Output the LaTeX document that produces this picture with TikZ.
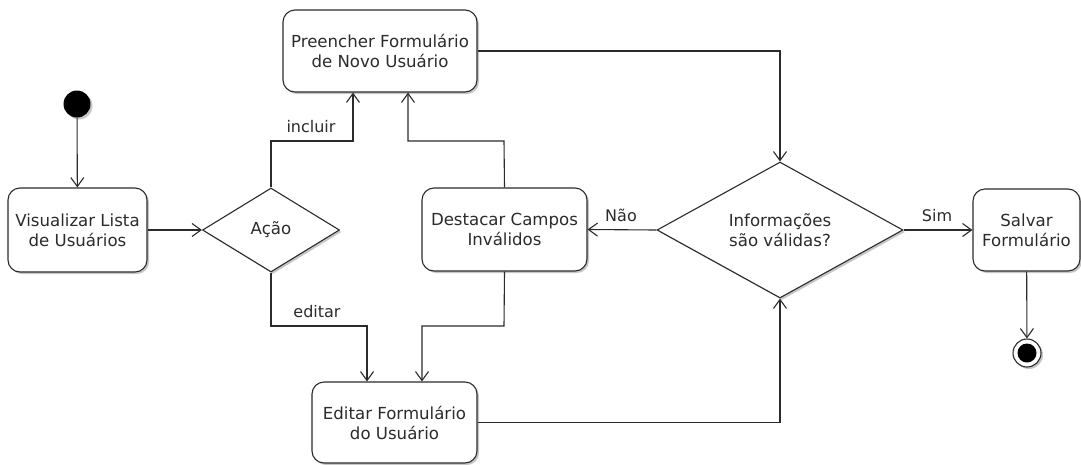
\documentclass[tikz,border=0pt]{standalone}
\usepackage{fontspec}
\setmainfont{DejaVu Sans}
\usetikzlibrary{shapes.geometric,arrows.meta,shadows}
\definecolor{ink}{HTML}{2B2B2B}
\tikzset{
  shade/.style={drop shadow={shadow xshift=2pt,shadow yshift=-2pt,opacity=0.22,fill=black}},
  activity/.style={draw=ink,line width=1.1pt,rounded corners=12pt,fill=white,shade,
    inner sep=0pt,align=center,text=ink,font=\fontsize{16.6}{20}\selectfont},
  choice/.style={diamond,draw=ink,line width=1.1pt,fill=white,shade,inner sep=0pt,
    aspect=1.8,align=center,text=ink,font=\fontsize{16.6}{20}\selectfont},
  flow/.style={draw=ink,line width=1.1pt,-{Straight Barb[length=9pt,width=13pt,line width=1.1pt]}},
  guard/.style={text=ink,inner sep=0pt},
}
\begin{document}
\begin{tikzpicture}[x=1pt,y=-1pt,font=\fontsize{16}{20}\selectfont]
\useasboundingbox (0,0) rectangle (1081,464);

% initial and final states
\node[circle,fill=black,minimum size=27pt,inner sep=0pt,shade] (start) at (77,104) {};
\node[circle,draw=ink,line width=1.1pt,fill=white,minimum size=28pt,inner sep=0pt,shade] (stop) at (1027,353) {};
\node[circle,fill=black,minimum size=19pt,inner sep=0pt] (stopdot) at (stop.center) {};

% activities
\node[activity,minimum width=139pt,minimum height=84pt] (lista) at (77.5,230) {Visualizar Lista\\de Usuários};
\node[activity,minimum width=194pt,minimum height=82pt] (novo) at (380,51) {Preencher Formulário\\de Novo Usuário};
\node[activity,minimum width=165pt,minimum height=83pt] (destacar) at (504.5,229.5) {Destacar Campos\\Inválidos};
\node[activity,minimum width=165pt,minimum height=81pt] (editar) at (394.5,422.5) {Editar Formulário\\do Usuário};
\node[activity,minimum width=107pt,minimum height=82pt] (salvar) at (1026.5,230) {Salvar\\Formulário};

% decisions
\node[choice,minimum width=137pt,minimum height=84pt] (acao) at (271,230) {Ação};
\node[choice,minimum width=246pt,minimum height=136pt] (valida) at (780,230) {Informações\\são válidas?};

% transitions
\draw[flow] (start) -- (lista);
\draw[flow] (lista) -- (acao);
\draw[flow] (acao.north) -- (271,141) -- (353,141) -- ([xshift=-27pt]novo.south);
\draw[flow] (acao.south) -- (271,326) -- (367,326) -- ([xshift=-27.5pt]editar.north);
\draw[flow] (destacar.north) -- (504,141) -- (408,141) -- ([xshift=28pt]novo.south);
\draw[flow] (destacar.south) -- (504,326) -- (422,326) -- ([xshift=27.5pt]editar.north);
\draw[flow] (novo.east) -| (valida.north);
\draw[flow] (editar.east) -| (valida.south);
\draw[flow] (valida.west) -- (destacar.east);
\draw[flow] (valida.east) -- (salvar.west);
\draw[flow] (salvar) -- (stop);

% guards
\node[guard] (gincluir) at (311,127) {incluir};
\node[guard] (geditar) at (317,312) {editar};
\node[guard] (gnao) at (621,215) {Não};
\node[guard] (gsim) at (937,216) {Sim};
\end{tikzpicture}
\end{document}
